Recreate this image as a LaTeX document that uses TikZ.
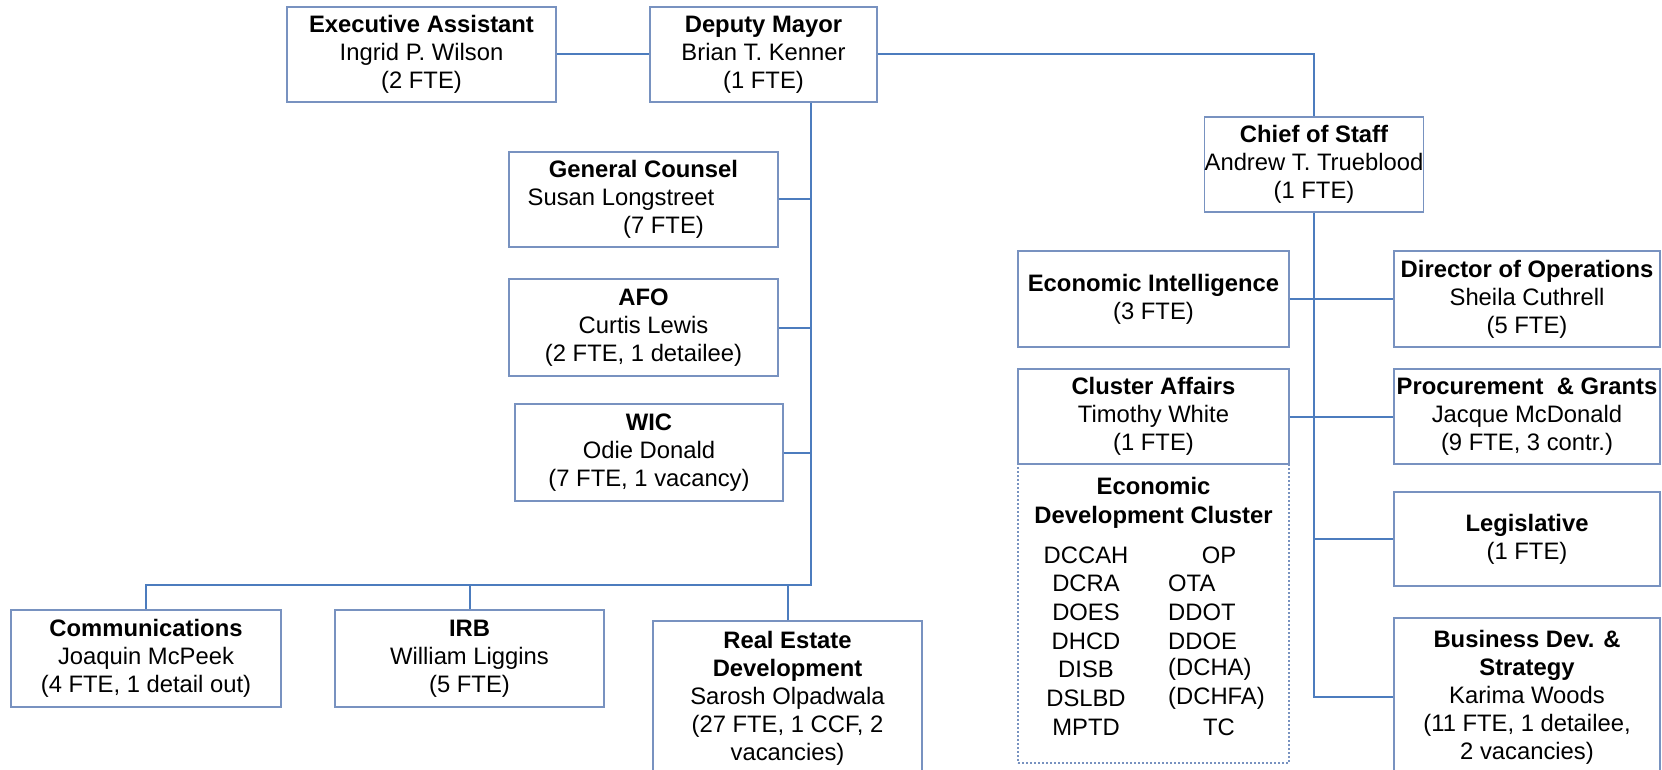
\documentclass[tikz,border=0pt]{standalone}
\usepackage{fontspec}
\setmainfont{Liberation Sans}
\definecolor{boxblue}{RGB}{120,146,192}
\definecolor{linkblue}{RGB}{76,124,190}

\begin{document}
\begin{tikzpicture}[x=1pt,y=-1pt,
    unit/.style={draw=boxblue,line width=1.4pt,inner sep=0pt,align=center,
      font={\fontsize{23.8}{28}\selectfont}},
    link/.style={draw=linkblue,line width=2pt},
    item/.style={inner sep=0pt,font={\fontsize{23.8}{28}\selectfont}}]
  \useasboundingbox (0,0) rectangle (1662,770);
  \clip (0,0) rectangle (1662,770);

  % mayor's office
  \node[unit,minimum width=269pt,minimum height=95pt] (ea) at (421.5,54.5)
    {\textbf{Executive Assistant}\\Ingrid P. Wilson\\(2 FTE)};
  \node[unit,minimum width=227pt,minimum height=95pt] (dm) at (763.5,54.5)
    {\textbf{Deputy Mayor}\\Brian T. Kenner\\(1 FTE)};
  \node[unit,minimum width=269pt,minimum height=95pt] (gc) at (643.5,199.5)
    {\textbf{General Counsel}\\Susan Longstreet\hspace*{45pt}\mbox{}\\\mbox{}\hspace*{40pt}(7 FTE)};
  \node[unit,minimum width=269pt,minimum height=97pt] (afo) at (643.5,327.5)
    {\textbf{AFO}\\Curtis Lewis\\(2 FTE, 1 detailee)};
  \node[unit,minimum width=268pt,minimum height=97pt] (wic) at (649,452.5)
    {\textbf{WIC}\\Odie Donald\\(7 FTE, 1 vacancy)};
  \node[unit,minimum width=270pt,minimum height=97pt] (comm) at (146,658.5)
    {\textbf{Communications}\\Joaquin McPeek\\(4 FTE, 1 detail out)};
  \node[unit,minimum width=269pt,minimum height=97pt] (irb) at (469.5,658.5)
    {\textbf{IRB}\\William Liggins\\(5 FTE)};
  \node[unit,minimum width=269pt,minimum height=154pt] (red) at (787.5,698)
    {\textbf{Real Estate}\\\textbf{Development}\\Sarosh Olpadwala\\(27 FTE, 1 CCF, 2\\vacancies)};

  % chief of staff
  \node[unit,minimum width=216pt,minimum height=95pt] (cos) at (1314,164.5)
    {\textbf{Chief of Staff}\\Andrew T. Trueblood\\(1 FTE)};
  \node[unit,minimum width=271pt,minimum height=96pt] (ei) at (1153.5,299)
    {\textbf{Economic Intelligence}\\(3 FTE)};
  \node[unit,minimum width=266pt,minimum height=96pt] (dirops) at (1527,299)
    {\textbf{Director of Operations}\\Sheila Cuthrell\\(5 FTE)};
  \node[draw=boxblue,line width=1.2pt,dash pattern=on 2pt off 2pt,
    minimum width=271pt,minimum height=299pt] (edc) at (1153.5,613.5) {};
  \node[unit,fill=white,minimum width=271pt,minimum height=95pt] (ca) at (1153.5,416.5)
    {\textbf{Cluster Affairs}\\Timothy White\\(1 FTE)};
  \node[unit,minimum width=266pt,minimum height=95pt] (proc) at (1527,416.5)
    {\textbf{Procurement\ \ \& Grants}\\Jacque McDonald\\(9 FTE, 3 contr.)};
  \node[unit,minimum width=266pt,minimum height=94pt] (leg) at (1527,539)
    {\textbf{Legislative}\\(1 FTE)};
  \node[unit,minimum width=266pt,minimum height=158pt] (bdev) at (1527,697)
    {\textbf{Business Dev. \&}\\\textbf{Strategy}\\Karima Woods\\(11 FTE, 1 detailee,\\2 vacancies)};

  % cluster agencies
  \node[item,align=center,font={\fontsize{23.8}{29}\selectfont\bfseries}] (edchead) at (1153.5,502.5)
    {Economic\\Development Cluster};
  \foreach \dept [count=\i] in {DCCAH,DCRA,DOES,DHCD,DISB,DSLBD,MPTD}
    \node[item] (edcl\i) at (1086,{526.3+28.7*\i}) {\dept};
  \foreach \dept [count=\i from 2] in {OTA,DDOT,DDOE,(DCHA),(DCHFA)}
    \node[item,anchor=west] (edcr\i) at (1168,{526.3+28.7*\i}) {\dept};
  \node[item] (edcr1) at (1219,555) {OP};
  \node[item] (edcr7) at (1219,727.2) {TC};

  % connectors
  \coordinate (dmbus) at (811,585);
  \coordinate (cosbus) at (1314,697);
  \draw[link] (ea.east) -- (dm.west);
  \draw[link] (dm.east) -| (cos.north);
  \draw[link] (dm.south -| dmbus) -- (dmbus) -| (comm.north);
  \foreach \n in {gc,afo,wic}
    \draw[link] (\n.east) -- (\n.east -| dmbus);
  \draw[link] (irb.north) -- (irb.north |- dmbus);
  \draw[link] (red.north) -- (red.north |- dmbus);
  \draw[link] (cos.south) -- (cosbus) -- (bdev.west);
  \draw[link] (ei.east) -- (dirops.west);
  \draw[link] (ca.east) -- (proc.west);
  \draw[link] (leg.west) -- (leg.west -| cosbus);
\end{tikzpicture}
\end{document}
